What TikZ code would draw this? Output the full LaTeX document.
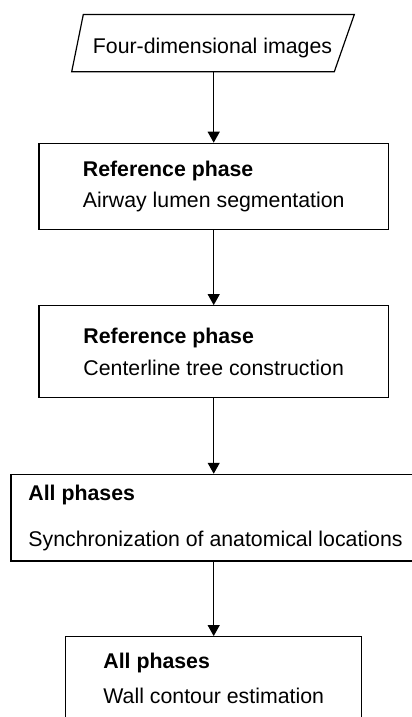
\documentclass[tikz,border=0pt]{standalone}
\usepackage{fontspec}
\setmainfont{Liberation Sans}
\usetikzlibrary{arrows.meta}
\begin{document}
\begin{tikzpicture}[x=1pt,y=-1pt,line width=1.2pt,
	font=\fontsize{21.3pt}{26pt}\selectfont,
	phase/.style={rectangle, draw, align=left, inner sep=0pt},
	flow/.style={-{Triangle[width=12pt,length=11pt]}}]
	\useasboundingbox (0,0) rectangle (412,717);
	\clip (0,0) rectangle (412,717);
	\node (IMG) at (212.5,53)	[anchor=base]	{Four-dimensional images};
	\draw (83.3,14.5) -- (354.3,14.5) -- (334.3,71.7) -- (71.7,71.7) -- cycle;
	\coordinate (IMGB) at (213.7,71.7);
	\node (SEG) at (213.7,186.3)	[phase, minimum width=349.3pt, minimum height=86pt]	{\textbf{Reference phase}\\[4.6pt]Airway lumen segmentation};
	\node (CL) at (213.7,351.7)	[phase, minimum width=349.3pt, minimum height=92pt]	{\textbf{Reference phase}\\[5.6pt]Centerline tree construction};
	\node (SYN) at (215.5,517.7)	[phase, minimum width=409pt, minimum height=86.7pt]	{\textbf{All phases}\\[19.6pt]Synchronization of anatomical locations};
	\node (WALL) at (213.7,678.3)	[phase, minimum width=296pt, minimum height=83.3pt]	{\textbf{All phases}\\[9pt]Wall contour estimation};
	\draw[flow] (IMGB) -- (SEG);
	\draw[flow] (SEG) -- (CL);
	\draw[flow] (CL) -- (CL.south |- SYN.north);
	\draw[flow] (SYN.south -| WALL.north) -- (WALL);
\end{tikzpicture}
\end{document}
